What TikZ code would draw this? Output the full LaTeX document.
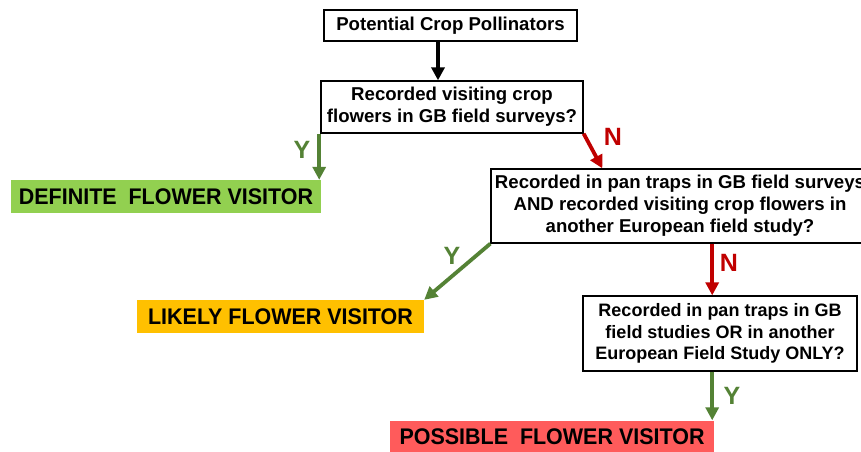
\documentclass[tikz,border=0pt]{standalone}
\usepackage{fontspec}
\setmainfont{Liberation Sans}
\newfontfamily\condfont[FakeStretch=0.95]{Liberation Sans}
\usetikzlibrary{arrows.meta,calc}
\definecolor{arrgreen}{HTML}{548235}
\definecolor{arrred}{HTML}{C00000}
\definecolor{fillgreen}{HTML}{92D050}
\definecolor{fillorange}{HTML}{FFC000}
\definecolor{fillred}{HTML}{FF5B5B}
\tikzset{
  qbox/.style={draw=black, line width=1.3pt, fill=white, align=center, inner sep=0pt,
    font=\bfseries\fontsize{18.6}{22}\selectfont},
  outbox/.style={inner sep=0pt, minimum height=33pt, font=\condfont\bfseries\fontsize{22.6}{22.6}\selectfont},
  yn/.style={inner sep=0pt, font=\bfseries\fontsize{25}{25}\selectfont},
  arrbase/.style={line width=3.8pt, -{Triangle[length=13pt,width=13pt]}},
  blkarrow/.style={arrbase, draw=black},
  grnarrow/.style={arrbase, draw=arrgreen},
  redarrow/.style={arrbase, draw=arrred},
}
\begin{document}
\begin{tikzpicture}[x=1pt,y=-1pt]
\useasboundingbox (0,0) rectangle (861,451);
\fill[white] (0,0) rectangle (861,451);
\clip (0,0) rectangle (861,451);

% question boxes
\node[qbox, minimum width=253pt, minimum height=31pt] (b1) at (450.5,25.5) {Potential Crop Pollinators};
\node[qbox, minimum width=262pt, minimum height=52pt] (b2) at (452,107) {Recorded visiting crop\\flowers in GB field surveys?};
\node[qbox, minimum width=378pt, minimum height=74pt] (b3) at (680,206) {Recorded in pan traps in GB field surveys\\AND recorded visiting crop flowers in\\another European field study?};
\node[qbox, minimum width=274pt, minimum height=75pt, font=\bfseries\fontsize{18}{21.5}\selectfont] (b4) at (720,333.5) {Recorded in pan traps in GB\\field studies OR in another\\European Field Study ONLY?};

% outcome boxes
\node[outbox, fill=fillgreen, minimum width=310pt] (def) at (166,196.5) {DEFINITE\ \ FLOWER VISITOR};
\node[outbox, fill=fillorange, minimum width=287pt] (likely) at (280.5,316.5) {LIKELY FLOWER VISITOR};
\node[outbox, fill=fillred, minimum width=324pt] (possible) at (552,437) {POSSIBLE\ \ FLOWER VISITOR};

% connectors
\draw[blkarrow] ([xshift=-12.5pt]b1.south) -- ([xshift=-14pt]b2.north);
\draw[grnarrow] ([xshift=-2pt]def.north east |- b2.south) -- ([xshift=-2pt]def.north east);
\draw[redarrow] (b2.south east) -- ($(b3.north west)+(112,0)$);
\draw[grnarrow] (b3.south west) -- (likely.north east);
\draw[redarrow] ([xshift=-2pt]possible.north east |- b3.south) -- ([xshift=-2pt]possible.north east |- b4.north);
\draw[grnarrow] ([xshift=-2pt]possible.north east |- b4.south) -- ([xshift=-2pt]possible.north east);

% Y / N labels
\node[yn, text=arrgreen] (y1) at (302,150) {Y};
\node[yn, text=arrred] (n1) at (613,137) {N};
\node[yn, text=arrgreen] (y2) at (452,256) {Y};
\node[yn, text=arrred] (n2) at (729,263) {N};
\node[yn, text=arrgreen] (y3) at (732,395.5) {Y};
\end{tikzpicture}
\end{document}
